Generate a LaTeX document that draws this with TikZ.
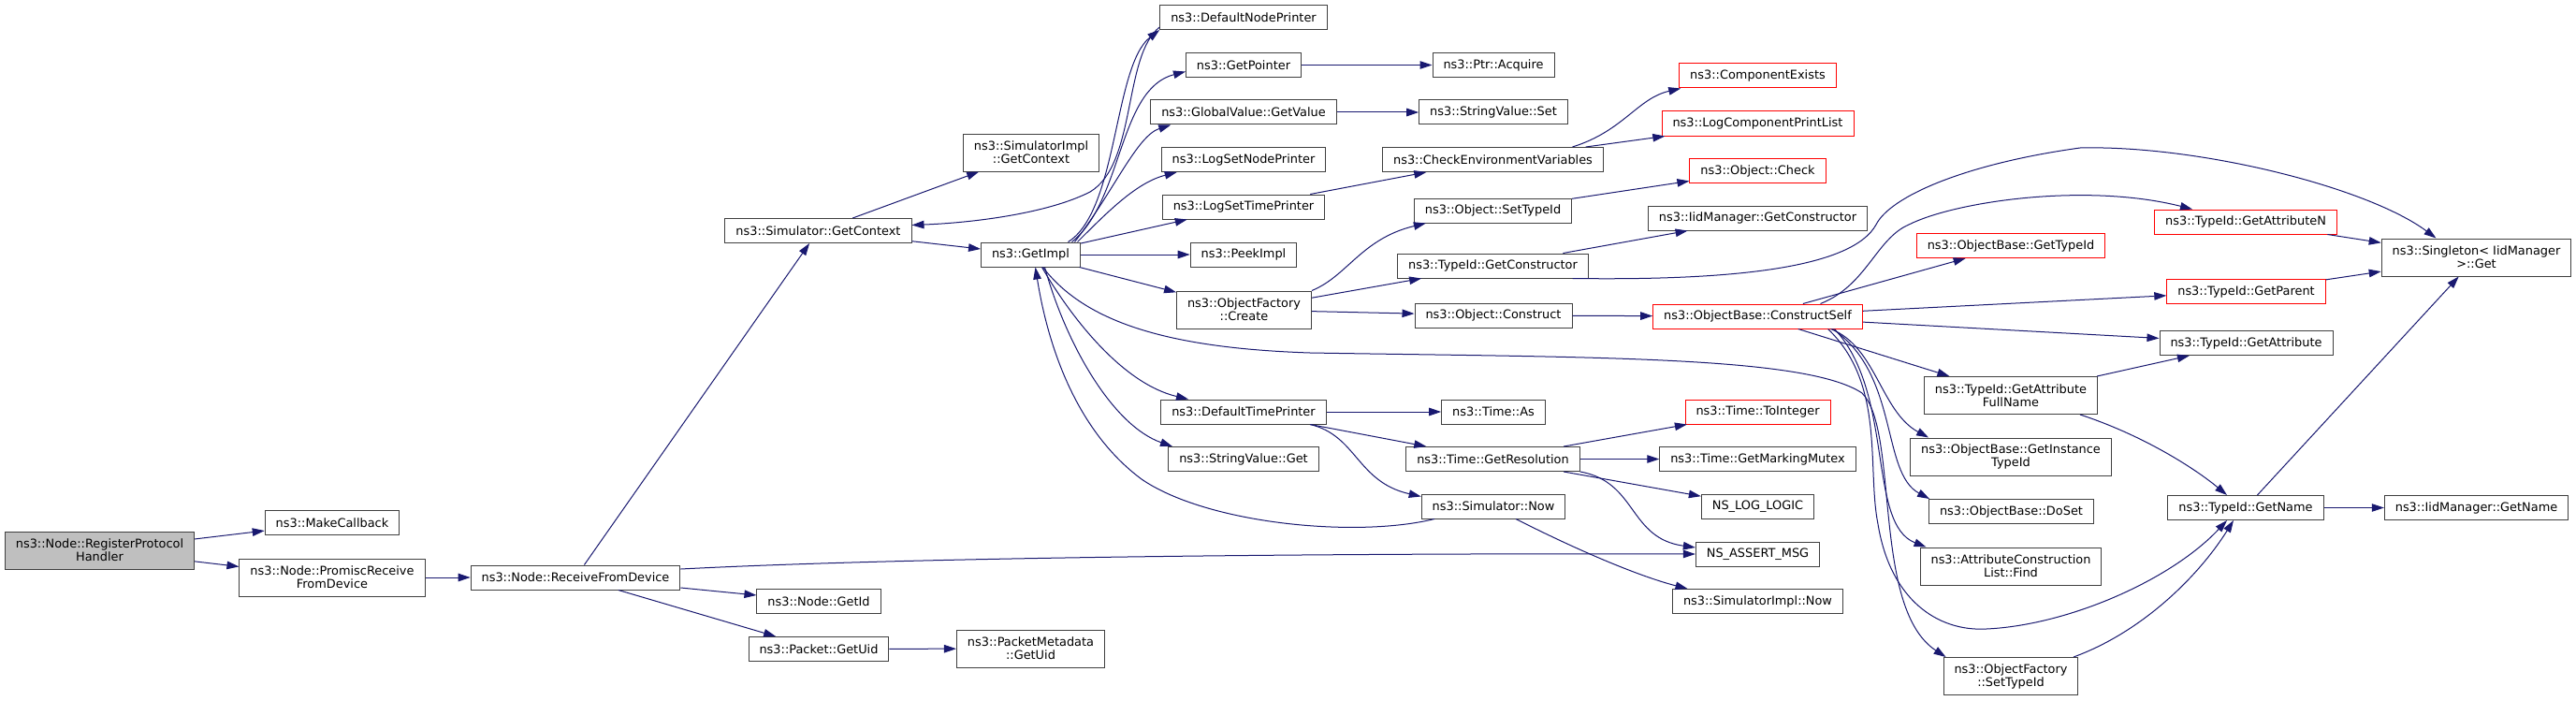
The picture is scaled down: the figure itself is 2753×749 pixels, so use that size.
\documentclass[tikz,border=0pt]{standalone}
\usepackage{fontspec}
\setmainfont{DejaVu Sans}
\usepackage{tikz}
\usetikzlibrary{arrows.meta}
\usepackage{xcolor}
\definecolor{callblue}{HTML}{191970}
\definecolor{boxgray}{HTML}{404040}
\definecolor{rootgray}{HTML}{BFBFBF}

\begin{document}
\begin{tikzpicture}[x=1pt,y=-1pt,>={Triangle[length=13pt,width=8.5pt]},line width=1pt,
  fn/.style={draw=boxgray,fill=white,inner xsep=11.5pt,inner ysep=6.5pt,minimum height=26pt,
    align=center,font=\fontsize{12.9}{14}\selectfont},
  fnred/.style={fn,draw=red},
  fntwo/.style={minimum height=40pt},
  call/.style={->,draw=callblue}]
\fill[white] (0,0) rectangle (2753,749);
% callers on the left
\node[fn,fntwo,fill=rootgray] (reg) at (106.5,588) {ns3::Node::RegisterProtocol\\Handler};
\node[fn] (mkcb) at (355,558.5) {ns3::MakeCallback};
\node[fn,fntwo] (promisc) at (355,617) {ns3::Node::PromiscReceive\\FromDevice};
\node[fn] (recv) at (615,617) {ns3::Node::ReceiveFromDevice};
\node[fn] (getid) at (875,642.5) {ns3::Node::GetId};
\node[fn] (pktuid) at (875,693.5) {ns3::Packet::GetUid};
\node[fn,fntwo] (pmuid) at (1101.5,693) {ns3::PacketMetadata\\::GetUid};
\node[fn] (simctx) at (874.5,246.5) {ns3::Simulator::GetContext};
\node[fn,fntwo] (implctx) at (1102,163) {ns3::SimulatorImpl\\::GetContext};
\node[fn] (getimpl) at (1101.5,272) {ns3::GetImpl};
% column of GetImpl callees
\node[fn] (dnp) at (1329,18.5) {ns3::DefaultNodePrinter};
\node[fn] (getptr) at (1329,69.5) {ns3::GetPointer};
\node[fn] (gvget) at (1329,120) {ns3::GlobalValue::GetValue};
\node[fn] (lsnp) at (1329,170.5) {ns3::LogSetNodePrinter};
\node[fn] (lstp) at (1329,221) {ns3::LogSetTimePrinter};
\node[fn] (peek) at (1329,272) {ns3::PeekImpl};
\node[fn,fntwo] (ofcreate) at (1329.5,331) {ns3::ObjectFactory\\::Create};
\node[fn] (dtp) at (1329,440) {ns3::DefaultTimePrinter};
\node[fn] (svget) at (1329,490.5) {ns3::StringValue::Get};
% next column
\node[fn] (acquire) at (1596,69.5) {ns3::Ptr::Acquire};
\node[fn] (svset) at (1596,120) {ns3::StringValue::Set};
\node[fn] (checkenv) at (1595.5,170.5) {ns3::CheckEnvironmentVariables};
\node[fn] (osettid) at (1595.5,225) {ns3::Object::SetTypeId};
\node[fn] (getctor) at (1595.5,284) {ns3::TypeId::GetConstructor};
\node[fn] (oconstruct) at (1596,337) {ns3::Object::Construct};
\node[fn] (timeas) at (1596,440) {ns3::Time::As};
\node[fn] (getres) at (1595.5,490.5) {ns3::Time::GetResolution};
\node[fn] (simnow) at (1596,541) {ns3::Simulator::Now};
% next column
\node[fnred] (compex) at (1878.5,81) {ns3::ComponentExists};
\node[fnred] (lcpl) at (1878.5,132) {ns3::LogComponentPrintList};
\node[fnred] (ocheck) at (1878.5,182.5) {ns3::Object::Check};
\node[fn] (iidctor) at (1878.5,233) {ns3::IidManager::GetConstructor};
\node[fnred] (cself) at (1878.5,338) {ns3::ObjectBase::ConstructSelf};
\node[fnred] (toint) at (1878.5,440) {ns3::Time::ToInteger};
\node[fn] (mutex) at (1878.5,490.5) {ns3::Time::GetMarkingMutex};
\node[fn] (loglogic) at (1878.5,541) {NS\_LOG\_LOGIC};
\node[fn] (assert) at (1878.5,592) {NS\_ASSERT\_MSG};
\node[fn] (implnow) at (1878.5,642.5) {ns3::SimulatorImpl::Now};
% next column
\node[fnred] (obgettid) at (2149,262.5) {ns3::ObjectBase::GetTypeId};
\node[fn,fntwo] (attrfull) at (2149,422.5) {ns3::TypeId::GetAttribute\\FullName};
\node[fn,fntwo] (insttid) at (2149,488) {ns3::ObjectBase::GetInstance\\TypeId};
\node[fn] (doset) at (2149.5,546.5) {ns3::ObjectBase::DoSet};
\node[fn,fntwo] (acfind) at (2149,605) {ns3::AttributeConstruction\\List::Find};
\node[fn,fntwo] (ofsettid) at (2149,722.5) {ns3::ObjectFactory\\::SetTypeId};
% right columns
\node[fnred] (getattrn) at (2400,237) {ns3::TypeId::GetAttributeN};
\node[fnred] (getparent) at (2400.5,311.5) {ns3::TypeId::GetParent};
\node[fn] (getattr) at (2400.5,366.5) {ns3::TypeId::GetAttribute};
\node[fn] (getname) at (2400,542.5) {ns3::TypeId::GetName};
\node[fn,fntwo] (singleton) at (2646.5,275) {ns3::Singleton\textless{} IidManager\\\textgreater{}::Get};
\node[fn] (iidname) at (2646.5,542.5) {ns3::IidManager::GetName};

% calls
\draw[call] (reg) -- (mkcb);
\draw[call] (reg) -- (promisc);
\draw[call] (promisc) -- (recv);
\draw[call] (recv) -- (simctx);
\draw[call] ([yshift=9pt]recv.east) .. controls (1000,594) and (1500,591) .. (assert.west);
\draw[call] (recv) -- (getid);
\draw[call] (recv) -- (pktuid);
\draw[call] (pktuid) -- (pmuid);
\draw[call] (simctx) -- (implctx);
\draw[call] (simctx) -- (getimpl);
\draw[call] ([yshift=3pt]dnp.south west) .. controls (1200,60) and (1215,175) .. (1165,205)
  .. controls (1120,228) and (1040,238) .. ([yshift=6pt]simctx.east);
\draw[call] ([xshift=40pt]getimpl.north) .. controls (1195,225) and (1190,70) .. (dnp.south west);
\draw[call] ([xshift=44pt]getimpl.north) .. controls (1200,215) and (1195,95) .. ([yshift=-7pt]getptr.west);
\draw[call] ([xshift=47pt]getimpl.north) .. controls (1190,205) and (1215,145) .. ([xshift=22pt]gvget.south west);
\draw[call] ([xshift=50pt]getimpl.north) .. controls (1185,225) and (1215,195) .. ([xshift=17pt]lsnp.south west);
\draw[call] (getimpl) -- (lstp);
\draw[call] (getimpl) -- (peek);
\draw[call] (getimpl) -- (ofcreate);
\draw[call] ([xshift=12pt]getimpl.south) .. controls (1145,340) and (1200,410) .. ([xshift=-59pt]dtp.north);
\draw[call] ([xshift=15pt]getimpl.south) .. controls (1140,370) and (1190,455) .. ([xshift=-76pt]svget.north);
\draw[call] ([xshift=13pt]getimpl.south) .. controls (1160,345) and (1250,372) .. (1400,377)
  .. controls (1700,382) and (1930,380) .. (1990,420)
  .. controls (2030,460) and (2000,650) .. ([xshift=3pt]ofsettid.north west);
\draw[call] ([xshift=-63pt]simnow.south) .. controls (1450,575) and (1290,560) .. (1220,512)
  .. controls (1150,460) and (1120,370) .. ([xshift=5pt]getimpl.south);
\draw[call] (getptr) -- (acquire);
\draw[call] (gvget) -- (svset);
\draw[call] (lstp) -- (checkenv);
\draw[call] ([xshift=85pt]checkenv.north) .. controls (1735,140) and (1750,105) .. ([xshift=2pt]compex.south west);
\draw[call] (checkenv) -- (lcpl);
\draw[call] (ofcreate.north east) .. controls (1440,295) and (1455,255) .. ([xshift=13pt]osettid.south west);
\draw[call] (ofcreate) -- (getctor);
\draw[call] (ofcreate) -- (oconstruct);
\draw[call] (osettid) -- (ocheck);
\draw[call] (getctor) -- (iidctor);
\draw[call] ([xshift=85pt]getctor.south) .. controls (1860,300) and (1980,285) .. (2005,240)
  .. controls (2020,210) and (2100,175) .. (2223,158)
  .. controls (2350,155) and (2530,200) .. ([xshift=-43pt]singleton.north);
\draw[call] (oconstruct) -- (cself);
\draw[call] (dtp) -- (timeas);
\draw[call] (dtp) -- (getres);
\draw[call] ([xshift=71pt]dtp.south) .. controls (1450,465) and (1450,515) .. ([yshift=-3pt]simnow.north west);
\draw[call] (getres) -- (toint);
\draw[call] (getres) -- (mutex);
\draw[call] (getres) -- (loglogic);
\draw[call] (getres.south east) .. controls (1750,515) and (1740,575) .. ([yshift=7pt]assert.west);
\draw[call] ([xshift=24pt]simnow.south) .. controls (1700,595) and (1760,618) .. ([xshift=-75pt]implnow.north);
% ConstructSelf
\draw[call] ([xshift=67pt]cself.north) .. controls (1995,305) and (2005,255) .. (2040,240)
  .. controls (2090,215) and (2230,195) .. ([xshift=-57pt]getattrn.north);
\draw[call] (cself) -- (obgettid);
\draw[call] (cself) -- (getparent);
\draw[call] (cself) -- (getattr);
\draw[call] (cself) -- (attrfull);
\draw[call] ([xshift=78pt]cself.south) .. controls (2005,370) and (2010,440) .. ([xshift=20pt]insttid.north west);
\draw[call] ([xshift=80pt]cself.south) .. controls (2030,400) and (2010,505) .. ([xshift=1pt]doset.north west);
\draw[call] ([xshift=82pt]cself.south) .. controls (2025,420) and (1995,560) .. ([xshift=7pt]acfind.north west);
\draw[call] ([xshift=75pt]cself.south) .. controls (2015,410) and (1995,500) .. (2007,560)
  .. controls (2020,640) and (2070,675) .. (2123,672)
  .. controls (2210,668) and (2320,620) .. ([xshift=-20pt]getname.south);
\draw[call] ([xshift=67pt]ofsettid.north) .. controls (2290,675) and (2350,615) .. ([xshift=-13pt]getname.south);
\draw[call] (attrfull) -- (getattr);
\draw[call] ([xshift=74pt]attrfull.south) .. controls (2290,465) and (2345,500) .. ([xshift=-20pt]getname.north);
\draw[call] (getattrn) -- (singleton);
\draw[call] (getparent) -- (singleton);
\draw[call] (getname) -- (singleton);
\draw[call] (getname) -- (iidname);
\end{tikzpicture}
\end{document}
